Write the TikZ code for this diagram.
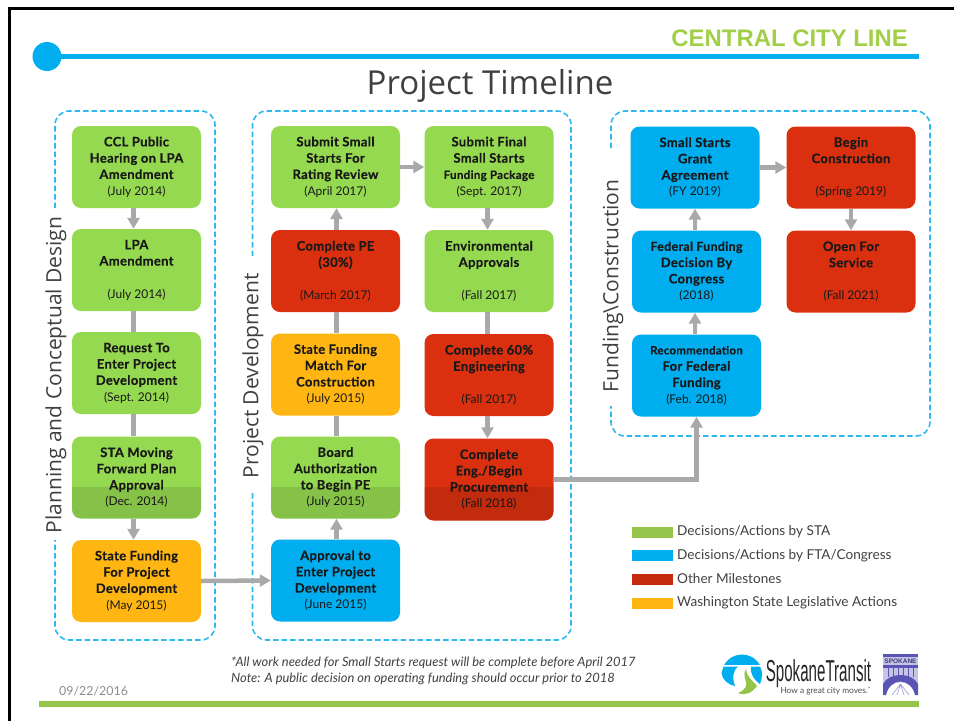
\documentclass[tikz,border=0pt]{standalone}
\usepackage{fontspec}
\setmainfont{Lato}
\newfontfamily\opensans{Open Sans}
\newfontfamily\libsans{Liberation Sans}
\newfontfamily\boxbold[LetterSpace=2.5,BoldFeatures={FakeBold=0.35}]{Lato}
\usetikzlibrary{arrows.meta,calc}
\definecolor{stagreen}{HTML}{95D950}
\definecolor{ftablue}{HTML}{00ADEF}
\definecolor{milered}{HTML}{DA3010}
\definecolor{legorange}{HTML}{FFB612}
\definecolor{dashblue}{HTML}{2DB9F0}
\definecolor{linkgray}{HTML}{A9A9A9}
\definecolor{linegreen}{HTML}{94C44A}
\definecolor{titlegreen}{HTML}{A2CF48}
\definecolor{inkgray}{HTML}{404040}
\definecolor{crest}{HTML}{5A55B5}
\newcommand{\dt}[1]{{\rmfamily\mdseries\fontsize{12}{16.3}\selectfont #1}}
\tikzset{
  x=1pt,y=-1pt,
  tbox/.style={rounded corners=9pt,minimum width=129pt,minimum height=#1,inner sep=0pt,align=center,
    text=black!90,font=\boxbold\fontsize{13}{16.3}\selectfont\bfseries,
    execute at begin node={\rule{0pt}{17pt}\ignorespaces}},
  tbox/.default=82pt,
  green box/.style={tbox,fill=stagreen},
  blue box/.style={tbox,fill=ftablue},
  red box/.style={tbox,fill=milered},
  orange box/.style={tbox,fill=legorange},
  phase/.style={draw=dashblue,line width=1.6pt,dash pattern=on 5.5pt off 3pt,rounded corners=14pt},
  phase label/.style={rotate=90,font=\opensans\fontsize{21}{24}\selectfont,text=inkgray,inner sep=0pt},
  link/.style={draw=linkgray,line width=4.5pt},
  arrowlink/.style={link,-{Triangle[width=12pt,length=11pt]}},
  swatch/.style={minimum width=41pt,minimum height=11pt,inner sep=0pt},
  legend text/.style={anchor=west,inner sep=0pt,text=black!75,font=\fontsize{13.6}{16}\selectfont},
  note text/.style={anchor=west,inner sep=0pt,text=inkgray,font=\fontsize{12.9}{15}\selectfont\itshape},
}
\begin{document}
\begin{tikzpicture}
\useasboundingbox (0,0) rectangle (954,721);
% frame (left and top only)
\draw[line width=3pt,black] (9,721) -- (9,8.5) -- (954,8.5);
% header
\draw[ftablue,line width=5pt] (47,56.5) -- (919,56.5);
\fill[ftablue] (47,56.5) circle[radius=14.5];
\node[anchor=east,inner sep=0pt,text=titlegreen,font=\libsans\fontsize{23.9}{26}\selectfont\bfseries] (brand) at (908,38) {CENTRAL CITY LINE};
\node[inner sep=0pt,text=inkgray,font=\opensans\fontsize{33}{36}\selectfont] (title) at (490,86) {Project Timeline};
\draw[linegreen,line width=5.5pt] (39,704) -- (919,704);
% phase frames
\draw[phase] (55,208) -- (55,111) -- (215,111) -- (215,640) -- (55,640) -- (55,540);
\draw[phase] (252.5,256) -- (252.5,111) -- (571,111) -- (571,640) -- (252.5,640) -- (252.5,490);
\draw[phase] (611,148) -- (611,111) -- (930,111) -- (930,436) -- (611,436) -- (611,406);
\node[phase label] (phaseA) at (56,375) {Planning and Conceptual Design};
\node[phase label] (phaseB) at (253,376) {Project Development};
\node[phase label] (phaseC) at (613,286) {Funding\textbackslash Construction};
% column 1
\node[green box] (b1) at (136.5,167) {CCL Public\\Hearing on LPA\\Amendment\\\dt{(July 2014)}};
\node[green box={80pt}] (b2) at (136.5,270) {LPA\\Amendment\\\strut\\\dt{(July 2014)}};
\node[green box] (b3) at (136.5,373) {Request To\\Enter Project\\Development\\\dt{(Sept. 2014)}};
\node[green box={81pt}] (b4) at (136.5,477.5) {STA Moving\\Forward Plan\\Approval\\\dt{(Dec. 2014)}};
\node[orange box] (b5) at (136.5,581) {State Funding\\For Project\\Development\\\dt{(May 2015)}};
% column 2
\node[green box] (c1) at (335.5,167) {Submit Small\\Starts For\\Rating Review\\\dt{(April 2017)}};
\node[red box] (c2) at (335.5,271) {Complete PE\\(30\%)\\\strut\\\dt{(March 2017)}};
\node[orange box] (c3) at (335.5,374.5) {State Funding\\Match For\\Construction\\\dt{(July 2015)}};
\node[green box={81pt}] (c4) at (335.5,477.5) {Board\\Authorization\\to Begin PE\\\dt{(July 2015)}};
\node[blue box] (c5) at (335.5,580.5) {Approval to\\Enter Project\\Development\\\dt{(June 2015)}};
% column 3
\node[green box] (d1) at (489,167) {Submit Final\\Small Starts\\{\fontsize{11.6}{16.3}\selectfont Funding Package}\\\dt{(Sept. 2017)}};
\node[green box={80pt}] (d2) at (489,271) {Environmental\\Approvals\\\strut\\\dt{(Fall 2017)}};
\node[red box] (d3) at (489,375) {Complete 60\%\\Engineering\\\strut\\\dt{(Fall 2017)}};
\node[red box={81pt}] (d4) at (489,479.5) {Complete\\Eng./Begin\\Procurement\\\dt{(Fall 2018)}};
% column 4
\node[blue box] (e1) at (695,167.5) {Small Starts\\Grant\\Agreement\\\dt{(FY 2019)}};
\node[blue box={81pt}] (e2) at (696.5,271.5) {{\fontsize{12.4}{16.3}\selectfont Federal Funding}\\Decision By\\Congress\\\dt{(2018)}};
\node[blue box={83pt}] (e3) at (696.5,375.5) {{\fontsize{11.4}{16.3}\selectfont Recommendation}\\For Federal\\Funding\\\dt{(Feb. 2018)}};
% column 5
\node[red box] (f1) at (851,167.5) {Begin\\Construction\\\strut\\\dt{(Spring 2019)}};
\node[red box={81pt}] (f2) at (851,271.5) {Open For\\Service\\\strut\\\dt{(Fall 2021)}};
% darker band across the lower part of row 4
\foreach \n in {b4,c4,d4}{
  \begin{scope}
    \clip (0,487) rectangle (954,530);
    \fill[black,opacity=.1,rounded corners=9pt] (\n.south west) rectangle (\n.north east);
  \end{scope}
}
% connectors
\draw[arrowlink] ([xshift=-3pt]b1.south) -- ([xshift=-3pt]b2.north);
\draw[link] ([xshift=-3pt]b2.south) -- ([xshift=-3pt]b3.north);
\draw[link] ([xshift=-3pt]b3.south) -- ([xshift=-3pt]b4.north);
\draw[arrowlink] ([xshift=-3pt]b4.south) -- ([xshift=-3pt]b5.north);
\draw[arrowlink] (b5.east) -- (c5.west);
\draw[arrowlink] ([xshift=1pt]c5.north) -- ([xshift=1pt]c4.south);
\draw[link] ([xshift=1pt]c4.north) -- ([xshift=1pt]c3.south);
\draw[link] ([xshift=1pt]c3.north) -- ([xshift=1pt]c2.south);
\draw[arrowlink] ([xshift=1pt]c2.north) -- ([xshift=1pt]c1.south);
\draw[arrowlink] (c1.east) -- (d1.west);
\draw[arrowlink] ([xshift=-1.5pt]d1.south) -- ([xshift=-1.5pt]d2.north);
\draw[link] ([xshift=-1.5pt]d2.south) -- ([xshift=-1.5pt]d3.north);
\draw[arrowlink] ([xshift=-1.5pt]d3.south) -- ([xshift=-1.5pt]d4.north);
\draw[arrowlink] (d4.east) -| (e3.south);
\draw[arrowlink] (e3.north -| e1.south) -- (e2.south -| e1.south);
\draw[arrowlink] (e2.north -| e1.south) -- (e1.south);
\draw[arrowlink] (e1.east) -- (f1.west);
\draw[arrowlink] (f1.south) -- (f2.north);
% legend
\node[swatch,fill=linegreen] (s1) at (652.5,532.5) {};
\node[swatch,fill=ftablue] (s2) at (652.5,555.5) {};
\node[swatch,fill=milered!90!black] (s3) at (652.5,579.5) {};
\node[swatch,fill=legorange] (s4) at (652.5,603) {};
\node[legend text] (l1) at (677,532) {Decisions/Actions by STA};
\node[legend text] (l2) at (677,555.5) {Decisions/Actions by FTA/Congress};
\node[legend text] (l3) at (677,579) {Other Milestones};
\node[legend text] (l4) at (677,602.5) {Washington State Legislative Actions};
% notes
\node[note text] (n1) at (231,662.5) {*All work needed for Small Starts request will be complete before April 2017};
\node[note text] (n2) at (231,678.5) {Note: A public decision on operating funding should occur prior to 2018};
\node[anchor=west,inner sep=0pt,text=black!45,font=\fontsize{12.4}{15}\selectfont] (date) at (59,691) {09/22/2016};
% Spokane Transit logo
\begin{scope}
  \clip (720,654) rectangle (764,664.5);
  \fill[ftablue] (742,675) circle[radius=20.5];
\end{scope}
\fill[ftablue] (723.5,666.5) -- (738,666.5) .. controls (733,670) and (732,678) .. (735,686) .. controls (729,685) and (722,680) .. (721.5,673) -- cycle;
\fill[ftablue] (751,666.5) -- (760,666.5) .. controls (763,672) and (762.5,678) .. (760,684) .. controls (754,680) and (750,674) .. cycle;
\fill[linegreen] (738,693) .. controls (745,690) and (748,686) .. (745.5,680) .. controls (744,676) and (744,672) .. (746,669) .. controls (746,676) and (752,680) .. (757,686) .. controls (752,693) and (745,696) .. (738,693) -- cycle;
\node[inner sep=0pt,text=black!85] (spokane) at (818.5,674) {\libsans\fontsize{27}{30}\selectfont\scalebox{.56}[1.12]{SpokaneTransit}};
\node[anchor=east,inner sep=0pt,text=black!70,font=\fontsize{8.3}{9}\selectfont] (tagline) at (871,691) {How a great city moves.\textsuperscript{*}};
\fill[crest!35] (883,654) rectangle (918,695);
\fill[crest] (883,654) rectangle (918,656.5);
\node[inner sep=0pt,text=crest!70!black,font=\libsans\fontsize{6.5}{7}\selectfont\bfseries] (crestname) at (900.5,661) {SPOKANE};
\fill[crest] (883,665) rectangle (918,668);
\fill[white] (886,695) .. controls (890,678) and (911,678) .. (915,695) -- cycle;
\fill[crest] (883,695) -- (883,684) .. controls (889,672) and (912,672) .. (918,684) -- (918,695) -- (915,695) .. controls (911,677) and (890,677) .. (886,695) -- cycle;
\foreach \x in {888,893,898,903,908,913} \draw[crest,line width=.8pt] (\x,668) -- (\x,677);
\draw[crest!60,line width=.6pt] (900.5,684) -- (892,695) (900.5,684) -- (897,695) (900.5,684) -- (904,695) (900.5,684) -- (909,695);
\end{tikzpicture}
\end{document}
